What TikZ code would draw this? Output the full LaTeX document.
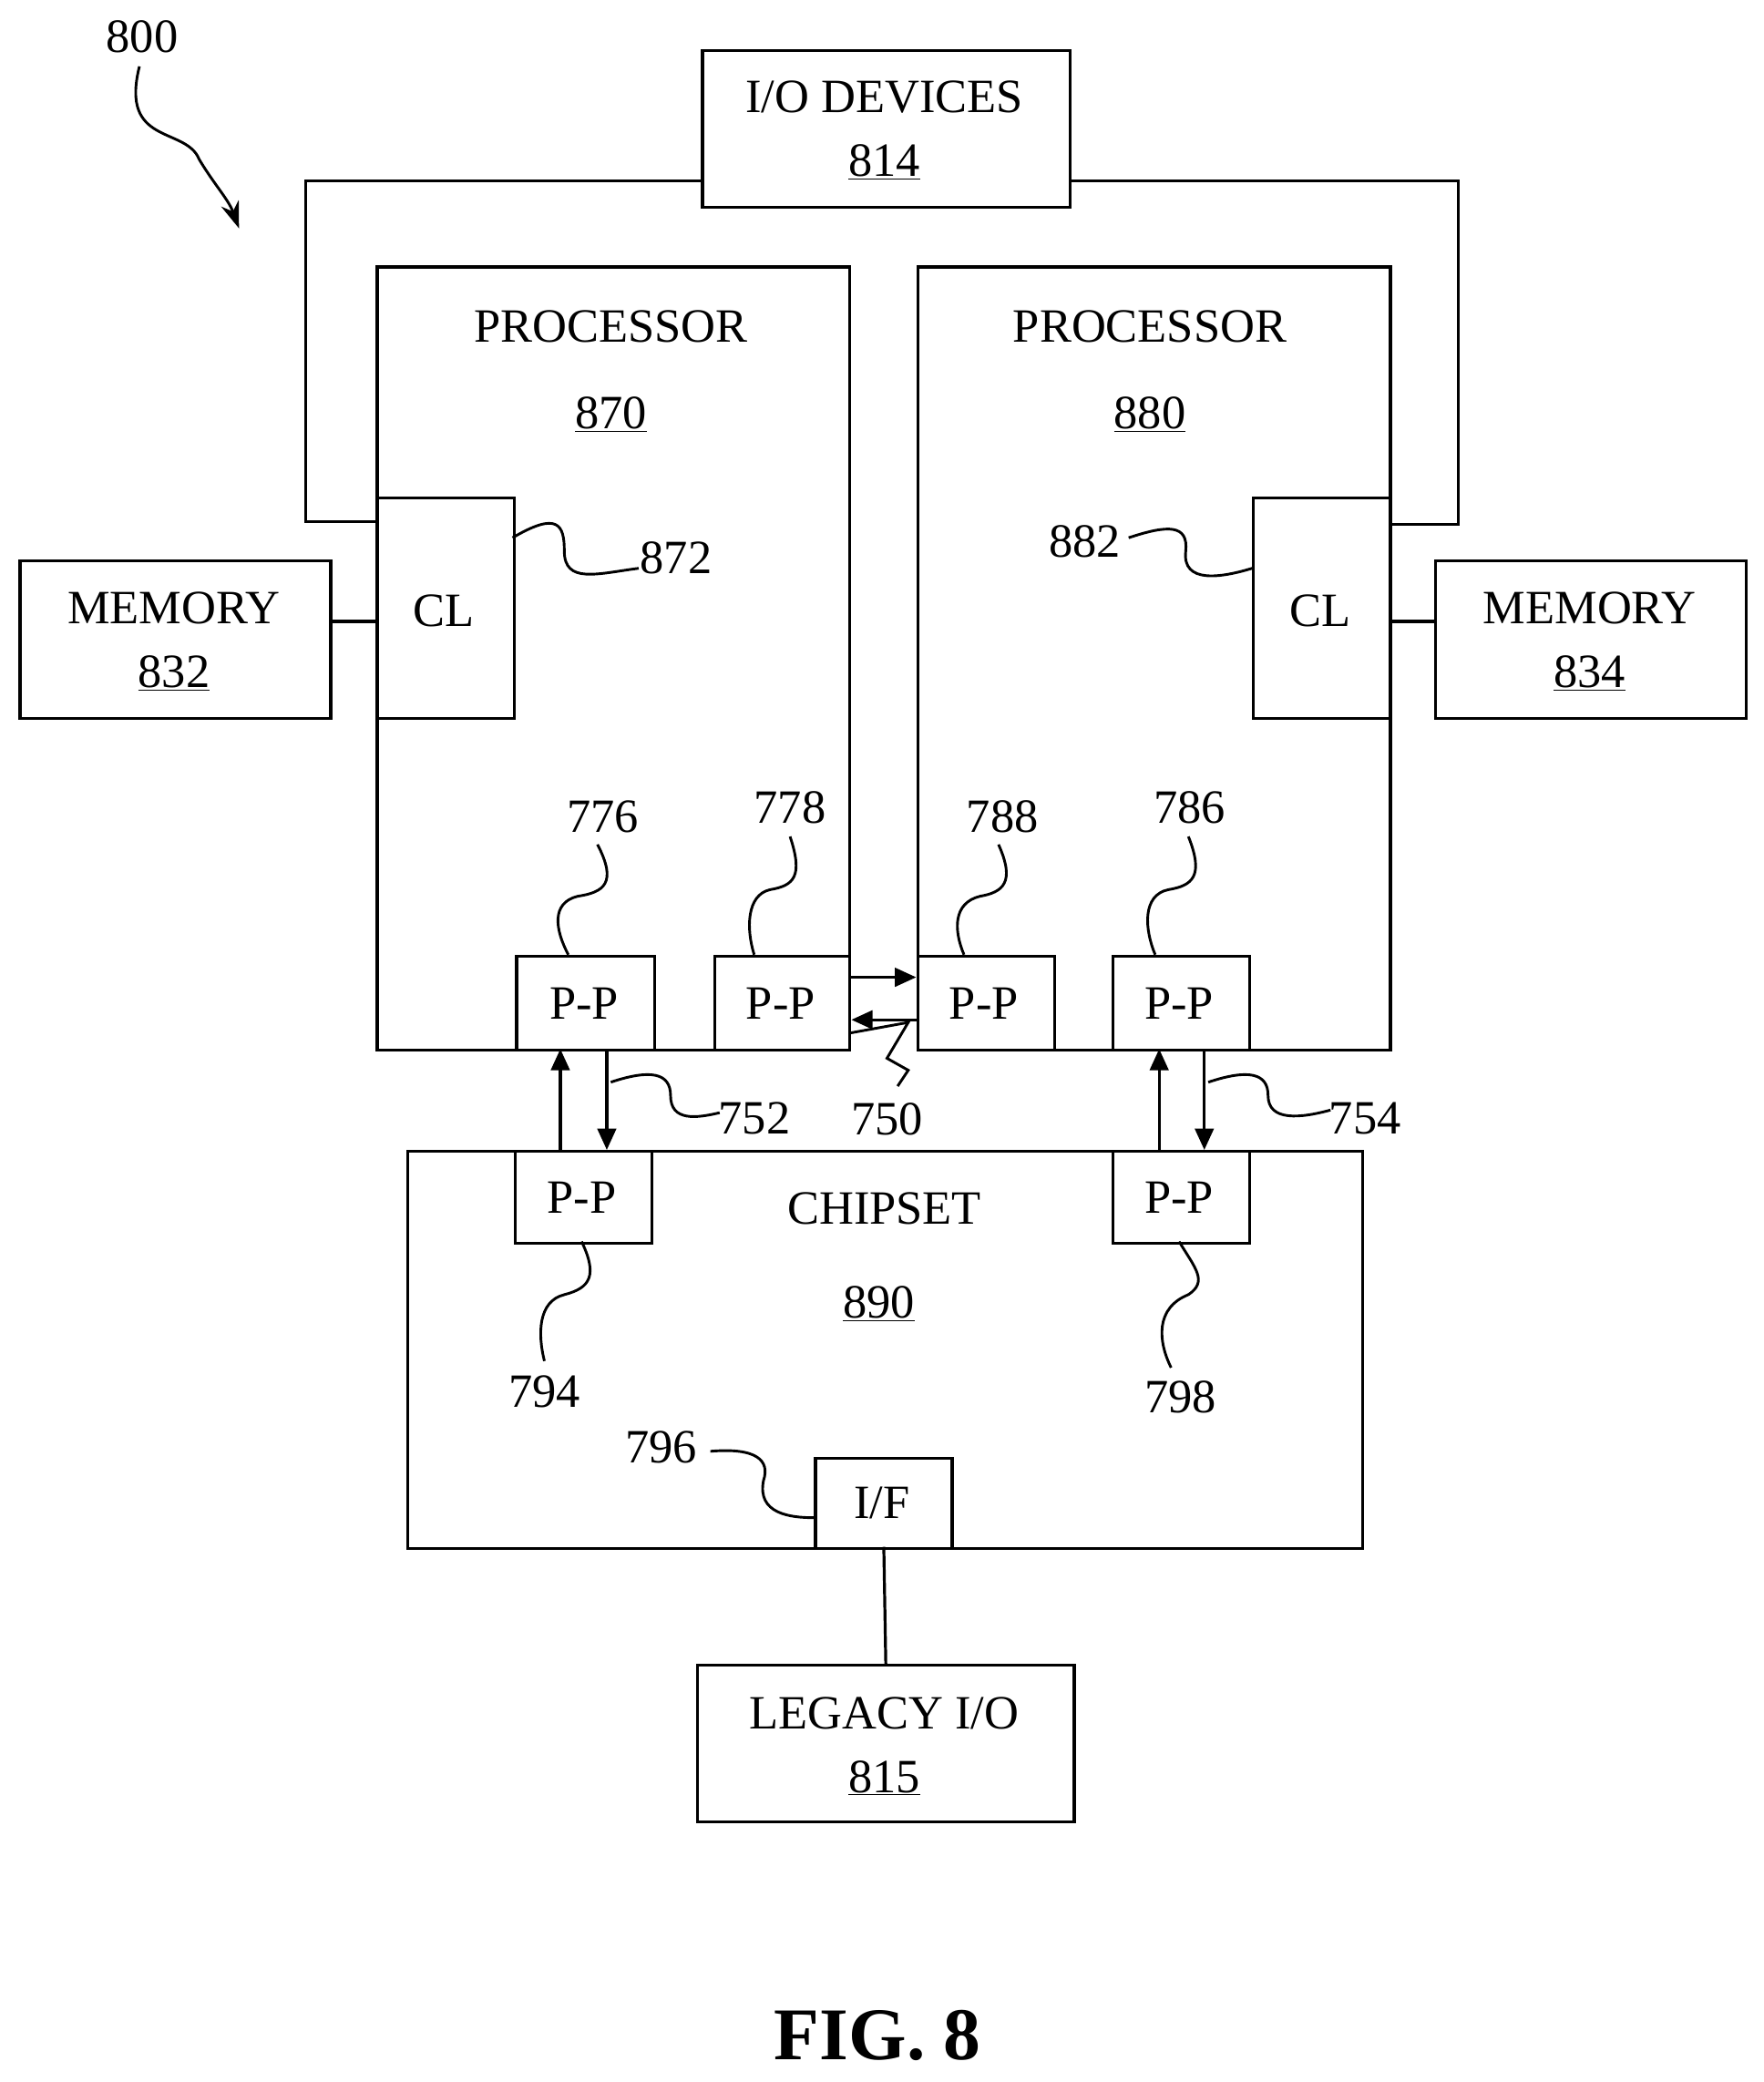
\documentclass[tikz,border=0pt]{standalone}
\usepackage{fontspec}
\setmainfont{Liberation Serif}
\usetikzlibrary{arrows.meta}
\begin{document}
\begin{tikzpicture}[x=1pt,y=-1pt,line width=2.2pt,
  box/.style={draw,rectangle,inner sep=0pt,anchor=north west},
  t/.style={font=\fontsize{36}{42}\selectfont,align=center,inner sep=0pt},
  lbl/.style={font=\fontsize{36}{40}\selectfont,inner sep=0pt},
  ar/.style={-{Triangle[length=16pt,width=14pt]}},
  ld/.style={line width=2pt}]
\useasboundingbox (0,0) rectangle (1328,1568);
% boxes
\node[box,minimum width=277pt,minimum height=118pt] (io) at (528,37) {};
\node[t] at (666,73) {I/O DEVICES};
\node[t] at (666,122) {\underline{814}};
\node[box,minimum width=356pt,minimum height=590pt] (p870) at (283,200) {};
\node[box,minimum width=356pt,minimum height=590pt] (p880) at (690,200) {};
\node[t] at (460,246) {PROCESSOR};
\node[t] at (460,312) {\underline{870}};
\node[t] at (866,246) {PROCESSOR};
\node[t] at (866,312) {\underline{880}};
\node[box,minimum width=103pt,minimum height=166pt] (cl1) at (283,374) {};
\node[t] at (334,460) {CL};
\node[box,minimum width=103pt,minimum height=166pt] (cl2) at (943,374) {};
\node[t] at (994,460) {CL};
\node[box,minimum width=234pt,minimum height=119pt] (m832) at (14,421) {};
\node[t] at (131,458) {MEMORY};
\node[t] at (131,507) {\underline{832}};
\node[box,minimum width=234pt,minimum height=119pt] (m834) at (1080,421) {};
\node[t] at (1197,458) {MEMORY};
\node[t] at (1197,507) {\underline{834}};
\node[box,minimum width=104pt,minimum height=71pt] (pp776) at (388,719) {};
\node[t] at (440,756) {P-P};
\node[box,minimum width=102pt,minimum height=71pt] (pp778) at (537,719) {};
\node[t] at (588,756) {P-P};
\node[box,minimum width=103pt,minimum height=71pt] (pp788) at (690,719) {};
\node[t] at (741,756) {P-P};
\node[box,minimum width=103pt,minimum height=71pt] (pp786) at (837,719) {};
\node[t] at (888,756) {P-P};
\node[box,minimum width=719pt,minimum height=299pt] (chip) at (306,866) {};
\node[t] at (666,910) {CHIPSET};
\node[t] at (662,982) {\underline{890}};
\node[box,minimum width=103pt,minimum height=69pt] (pp794) at (387,866) {};
\node[t] at (438,902) {P-P};
\node[box,minimum width=103pt,minimum height=69pt] (pp798) at (837,866) {};
\node[t] at (888,902) {P-P};
\node[box,minimum width=103pt,minimum height=68pt,fill=white] (if) at (613,1097) {};
\node[t] at (664,1132) {I/F};
\node[box,minimum width=284pt,minimum height=118pt] (leg) at (524,1253) {};
\node[t] at (666,1290) {LEGACY I/O};
\node[t] at (666,1339) {\underline{815}};
\node[font=\fontsize{56}{60}\selectfont\bfseries,inner sep=0pt] (fig) at (661,1533) {FIG. 8};
% connectors
\draw (cl1.north west |- 0,393) -- (230,393) -- (230,136) -- (io.west |- 0,136);
\draw (cl2.north east |- 0,395) -- (1098,395) -- (1098,136) -- (io.east |- 0,136);
\draw (m832.east |- 0,468) -- (cl1.west |- 0,468);
\draw (cl2.east |- 0,468) -- (m834.west |- 0,468);
\draw (if.south |- 0,1165) -- (leg.north);
\draw[ar] (pp778.east |- 0,736) -- (pp788.west |- 0,736);
\draw[ar] (pp788.west |- 0,768) -- (pp778.east |- 0,768);
\draw[ar] (422,866) -- (422,790);
\draw[ar] (457,790) -- (457,866);
\draw[ar] (873,866) -- (873,790);
\draw[ar] (907,790) -- (907,866);
% labels
\node[lbl] (l800) at (107,28) {800};
\draw[ld,-{Stealth[length=20pt,width=14pt]}] (105,50) .. controls (90,110) and (140,95) .. (150,120) .. controls (162,140) and (172,150) .. (180,172);
\node[lbl,anchor=west] (l872) at (481,420) {872};
\draw[ld] (386,405) .. controls (420,385) and (425,395) .. (425,415) .. controls (425,440) and (450,432) .. (481,428);
\node[lbl,anchor=east] (l882) at (845,408) {882};
\draw[ld] (850,405) .. controls (880,395) and (895,395) .. (893,415) .. controls (890,440) and (920,435) .. (943,428);
\node[lbl] (l776) at (454,615) {776};
\draw[ld] (450,636) .. controls (465,665) and (455,672) .. (435,675) .. controls (415,680) and (418,700) .. (428,719);
\node[lbl] (l778) at (595,608) {778};
\draw[ld] (595,630) .. controls (605,660) and (598,667) .. (580,670) .. controls (562,674) and (562,700) .. (568,719);
\node[lbl] (l788) at (755,615) {788};
\draw[ld] (752,636) .. controls (765,665) and (755,672) .. (738,675) .. controls (718,680) and (718,700) .. (726,719);
\node[lbl] (l786) at (896,608) {786};
\draw[ld] (895,630) .. controls (907,660) and (898,667) .. (880,670) .. controls (860,674) and (862,700) .. (870,719);
\node[lbl] (l750) at (668,843) {750};
\draw[ld] (640,778) -- (684,770) -- (668,797) -- (684,806) -- (676,818);
\node[lbl,anchor=west] (l752) at (540,842) {752};
\draw[ld] (460,815) .. controls (490,805) and (505,808) .. (505,825) .. controls (505,845) and (525,842) .. (542,838);
\node[lbl,anchor=west] (l754) at (1000,842) {754};
\draw[ld] (910,815) .. controls (940,805) and (955,808) .. (955,825) .. controls (955,845) and (980,842) .. (1002,836);
\node[lbl] (l794) at (410,1048) {794};
\draw[ld] (438,935) .. controls (450,960) and (445,970) .. (425,975) .. controls (405,980) and (405,1005) .. (410,1025);
\node[lbl] (l798) at (889,1052) {798};
\draw[ld] (888,935) .. controls (900,955) and (910,965) .. (895,975) .. controls (870,985) and (872,1010) .. (882,1030);
\node[lbl] (l796) at (498,1090) {796};
\draw[ld] (535,1093) .. controls (570,1090) and (580,1100) .. (575,1115) .. controls (570,1140) and (595,1143) .. (613,1143);
\end{tikzpicture}
\end{document}
